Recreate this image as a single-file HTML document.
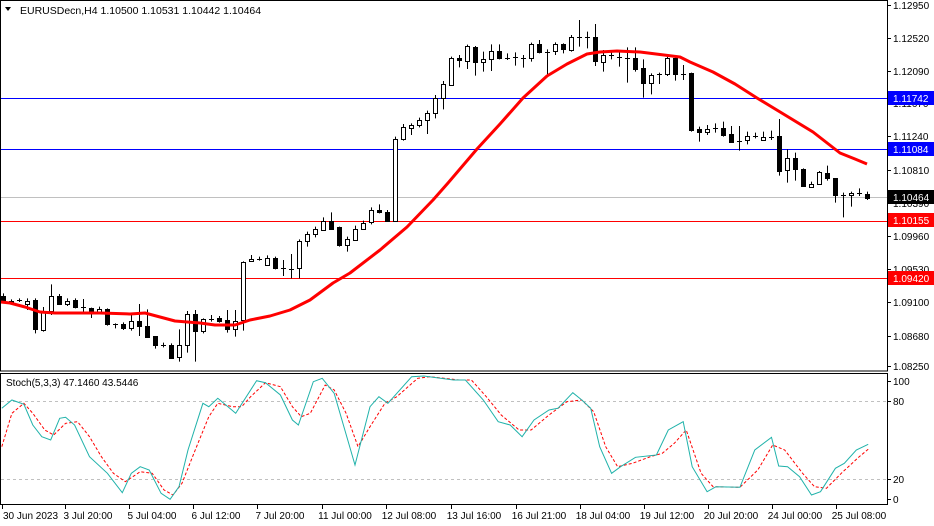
<!DOCTYPE html>
<html><head><meta charset="utf-8"><style>
html,body{margin:0;padding:0;background:#fff;}
svg{display:block;font-family:"Liberation Sans",sans-serif;}
</style></head><body>
<svg id="s" width="934" height="526" xmlns="http://www.w3.org/2000/svg">
<rect x="0" y="0" width="934" height="526" fill="#fff"/>
<g id="grid"></g>
<!-- horizontal lines -->
<line x1="1" x2="887" y1="197.5" y2="197.5" stroke="#c0c0c0" stroke-width="1"/>
<line x1="1" x2="887" y1="98.5" y2="98.5" stroke="#0000ff" stroke-width="1"/>
<line x1="1" x2="887" y1="149.5" y2="149.5" stroke="#0000ff" stroke-width="1"/>
<line x1="1" x2="887" y1="221.5" y2="221.5" stroke="#ff0000" stroke-width="1"/>
<line x1="1" x2="887" y1="278.5" y2="278.5" stroke="#ff0000" stroke-width="1"/>
<g id="candles"></g>
<polyline id="ma" fill="none" stroke="#ff0000" stroke-width="3" stroke-linejoin="round"/>
<!-- stoch levels -->
<line x1="1" x2="887" y1="401.5" y2="401.5" stroke="#c0c0c0" stroke-dasharray="3,3"/>
<line x1="1" x2="887" y1="479.5" y2="479.5" stroke="#c0c0c0" stroke-dasharray="3,3"/>
<polyline id="sig" fill="none" stroke="#ff0000" stroke-width="1" stroke-dasharray="3,2"/>
<polyline id="main" fill="none" stroke="#20b2aa" stroke-width="1"/>
<!-- frames -->
<rect x="0.5" y="0.5" width="887" height="370.5" fill="none" stroke="#000"/>
<rect x="0.5" y="373.5" width="887" height="131" fill="none" stroke="#000"/>
<g font-size="10" fill="#000" id="axis"></g>
<text x="20" y="14" font-size="10.5" fill="#000">EURUSDecn,H4  1.10500 1.10531 1.10442 1.10464</text>
<path d="M5 7 L11 7 L8 11 Z" fill="#000"/>
<text x="6" y="386" font-size="10" fill="#000">Stoch(5,3,3) 47.1460 43.5446</text>
<!-- price tags -->
<rect x="888" y="91" width="46" height="14" fill="#0000ff"/><text x="893" y="102" font-size="10" fill="#fff">1.11742</text>
<rect x="888" y="142" width="46" height="14" fill="#0000ff"/><text x="893" y="153" font-size="10" fill="#fff">1.11084</text>
<rect x="888" y="190" width="46" height="14" fill="#000"/><text x="893" y="201" font-size="10" fill="#fff">1.10464</text>
<rect x="888" y="213" width="46" height="14" fill="#ff0000"/><text x="893" y="224" font-size="10" fill="#fff">1.10155</text>
<rect x="888" y="271" width="46" height="14" fill="#ff0000"/><text x="893" y="282" font-size="10" fill="#fff">1.09420</text>
</svg>
<script>
var NS="http://www.w3.org/2000/svg";
function el(t,a,p){var e=document.createElementNS(NS,t);for(var k in a)e.setAttribute(k,a[k]);p.appendChild(e);return e;}
var ax=document.getElementById('axis');
var pl=[["1.12950",5],["1.12520",38],["1.12090",71],["1.11670",103],["1.11240",136],["1.10810",170],["1.10390",203],["1.09960",236],["1.09530",269],["1.09100",302],["1.08680",336],["1.08250",366]];
pl.forEach(function(p){el('line',{x1:887,x2:891,y1:p[1]+.5,y2:p[1]+.5,stroke:'#000'},ax);var t=el('text',{x:893,y:p[1]+4},ax);t.textContent=p[0];});
[["100",381],["80",401],["20",479],["0",499]].forEach(function(p){el('line',{x1:887,x2:891,y1:p[1]+.5,y2:p[1]+.5,stroke:'#000'},ax);var t=el('text',{x:893,y:p[1]+4},ax);t.textContent=p[0];});
var dl=[["30 Jun 2023",3,'start'],["3 Jul 20:00",88],["5 Jul 04:00",152],["6 Jul 12:00",216],["7 Jul 20:00",280],["11 Jul 00:00",345],["12 Jul 08:00",409],["13 Jul 16:00",474],["16 Jul 21:00",539],["18 Jul 04:00",603],["19 Jul 12:00",667],["20 Jul 20:00",731],["24 Jul 00:00",795],["25 Jul 08:00",859]];
dl.forEach(function(d,i){var x=d[2]?2:d[1]-23;el('line',{x1:x+.5,x2:x+.5,y1:505,y2:509,stroke:'#000'},ax);var t=el('text',{x:d[1],y:519,'text-anchor':d[2]||'middle'},ax);t.textContent=d[0];});
// candles: [top,bottom,wickTop,wickBot,type], zoom4 coords (y/3+180) for first 48
var c4=[[347,365,340,368,'b'],[362,366,358,368,'b'],[360,361,355,366,'d'],[362,372,355,390,'w'],[360,448,355,460,'b'],[395,449,381,455,'w'],[349,394,313,405,'w'],[347,370,342,372,'b'],[362,370,355,378,'w'],[360,382,355,385,'b'],[382,383,357,395,'d'],[385,395,383,414,'b'],[388,398,380,400,'w'],[388,432,385,437,'b'],[432,433,430,445,'d'],[432,445,427,450,'b'],[424,444,400,452,'w'],[424,440,372,468,'b'],[438,470,388,470,'b'],[468,496,468,506,'b'],[495,496,488,502,'d'],[494,532,490,534,'b'],[496,532,448,545,'w'],[403,496,393,518,'w'],[403,455,390,545,'b'],[418,455,415,460,'w'],[416,417,405,425,'d'],[414,422,408,428,'b'],[420,447,390,458,'b'],[422,447,390,470,'w'],[247,422,244,452,'w'],[237,244,225,246,'w'],[236,237,230,242,'d'],[234,254,226,256,'w'],[234,264,230,268,'b'],[264,265,240,288,'d'],[266,267,222,295,'d'],[184,266,178,295,'w'],[162,184,155,200,'w'],[148,164,140,172,'w'],[122,148,112,150,'w'],[122,145,97,148,'b'],[142,197,140,200,'b'],[178,197,170,215,'w'],[146,178,137,180,'w'],[128,146,122,150,'w'],[91,128,82,133,'w'],[91,97,73,100,'b']];
var c5=[[605,633,600,633,'b'],[388,633,380,633,'w'],[352,388,342,392,'w'],[344,352,340,375,'w'],[330,344,323,352,'w'],[310,330,302,372,'w'],[264,310,255,325,'w'],[222,264,213,298,'w'],[145,225,140,228,'w'],[145,152,135,172,'b'],[108,152,104,177,'w'],[111,157,108,197,'b'],[148,157,125,185,'w'],[124,148,103,183,'w'],[124,145,103,148,'b'],[143,144,130,150,'d'],[142,143,127,167,'d'],[143,144,135,173,'d'],[103,145,98,155,'w'],[103,128,90,130,'b'],[125,126,118,193,'d'],[103,125,97,135,'w'],[103,118,100,130,'b'],[82,122,75,125,'w'],[80,81,30,110,'d'],[80,81,65,115,'d'],[82,155,42,168,'b'],[135,155,120,185,'w'],[135,136,125,148,'d'],[142,143,120,170,'d'],[143,144,112,218,'d'],[145,177,112,185,'b'],[175,220,148,263,'b'],[195,220,190,253,'w'],[192,193,188,222,'d'],[145,192,140,198,'w'],[145,193,142,212,'b'],[192,193,165,210,'d'],[188,358,188,365,'b'],[357,365,350,395,'b'],[357,365,345,375,'w'],[355,356,340,368,'d'],[355,375,335,380,'b'],[373,397,348,397,'b'],[392,393,348,422,'d'],[378,390,365,403,'w'],[377,378,368,385,'d'],[380,390,365,392,'w'],[380,381,362,390,'d'],[378,482,327,497,'b'],[445,482,418,518,'w'],[445,477,428,512,'b'],[478,530,475,530,'b'],[522,530,515,533,'w'],[487,522,483,525,'w'],[490,505,467,512,'b'],[505,557,505,578,'b'],[555,556,548,622,'d'],[550,556,545,590,'w'],[550,551,535,558,'d'],[552,565,545,570,'b']];
var cg=document.getElementById('candles');
function draw(c,x,f){var t=f(c[0]),b=f(c[1]),wt=f(c[2]),wb=f(c[3]);
 el('line',{x1:x+.5,x2:x+.5,y1:wt,y2:wb,stroke:'#000'},cg);
 if(c[4]=='d'){el('line',{x1:x-2,x2:x+3,y1:Math.round(t)+.5,y2:Math.round(t)+.5,stroke:'#000'},cg);}
 else{var h=Math.max(b-t,1);el('rect',{x:x-2+.5,y:Math.round(t)+.5,width:4,height:Math.round(h),fill:c[4]=='b'?'#000':'#fff',stroke:'#000'},cg);}}
c4.forEach(function(c,i){draw(c,Math.round(2.5+8*i),function(v){return v/3+180;});});
c5.forEach(function(c,i){draw(c,Math.round(2.5+8*(i+48)),function(v){return v/3+10;});});
document.getElementById('ma').setAttribute('points',"1,302 10,303 25,307 40,312 55,313 100,313 130,314 145,313 175,321 200,323 215,325 235,325 250,320 270,316 290,310 310,300 333,283 350,273 380,250 407,227 433,200 448,183 477,149 500,124 523,98 547,76 567,64 587,54 600,52 617,51 640,52 680,57 690,62 713,72 735,84 757,98 790,118 813,132 840,153 855,159 867,164");
var m=[[3,145],[20,120],[40,133],[55,195],[70,230],[85,240],[100,175],[110,172],[125,195],[150,290],[180,340],[205,398],[220,340],[235,320],[250,330],[270,400],[285,418],[300,380],[315,270],[340,130],[350,140],[365,115],[395,160],[430,62],[445,68],[470,105],[490,180],[500,195],[525,65],[540,55],[560,100],[595,315],[620,140],[635,110],[650,130],[690,50],[710,48],[760,60],[780,60],[810,120],[835,185],[855,195],[875,230],[895,180],[920,150],[935,145],[960,98],[975,120],[990,145],[1005,260],[1025,340],[1040,320],[1065,292],[1100,285],[1120,210],[1145,185],[1160,320],[1185,395],[1200,380],[1240,382],[1265,270],[1293,232],[1305,318],[1320,320],[1340,350],[1360,405],[1375,395],[1400,325],[1415,310],[1435,270],[1455,253]];
var s=[[3,260],[20,160],[40,130],[55,160],[75,210],[90,225],[110,190],[130,185],[150,230],[170,290],[190,340],[210,365],[235,335],[255,340],[275,390],[290,405],[305,370],[325,280],[350,170],[365,130],[390,140],[405,140],[420,110],[445,68],[470,80],[490,140],[505,170],[520,160],[545,75],[560,90],[580,160],[600,260],[620,200],[645,130],[665,110],[700,55],[720,50],[770,60],[790,60],[815,110],[840,165],[870,210],[890,210],[920,165],[950,125],[975,120],[995,155],[1015,260],[1035,320],[1060,310],[1090,290],[1110,280],[1130,250],[1150,210],[1175,340],[1195,380],[1240,382],[1270,330],[1295,255],[1315,270],[1345,340],[1365,380],[1385,385],[1410,340],[1440,290],[1455,268]];
function pts(a){return a.map(function(p){return (p[0]*0.5967).toFixed(1)+','+(p[1]/3+360).toFixed(1);}).join(' ');}
document.getElementById('main').setAttribute('points',pts(m));
document.getElementById('sig').setAttribute('points',pts(s));
</script>
</body></html>
